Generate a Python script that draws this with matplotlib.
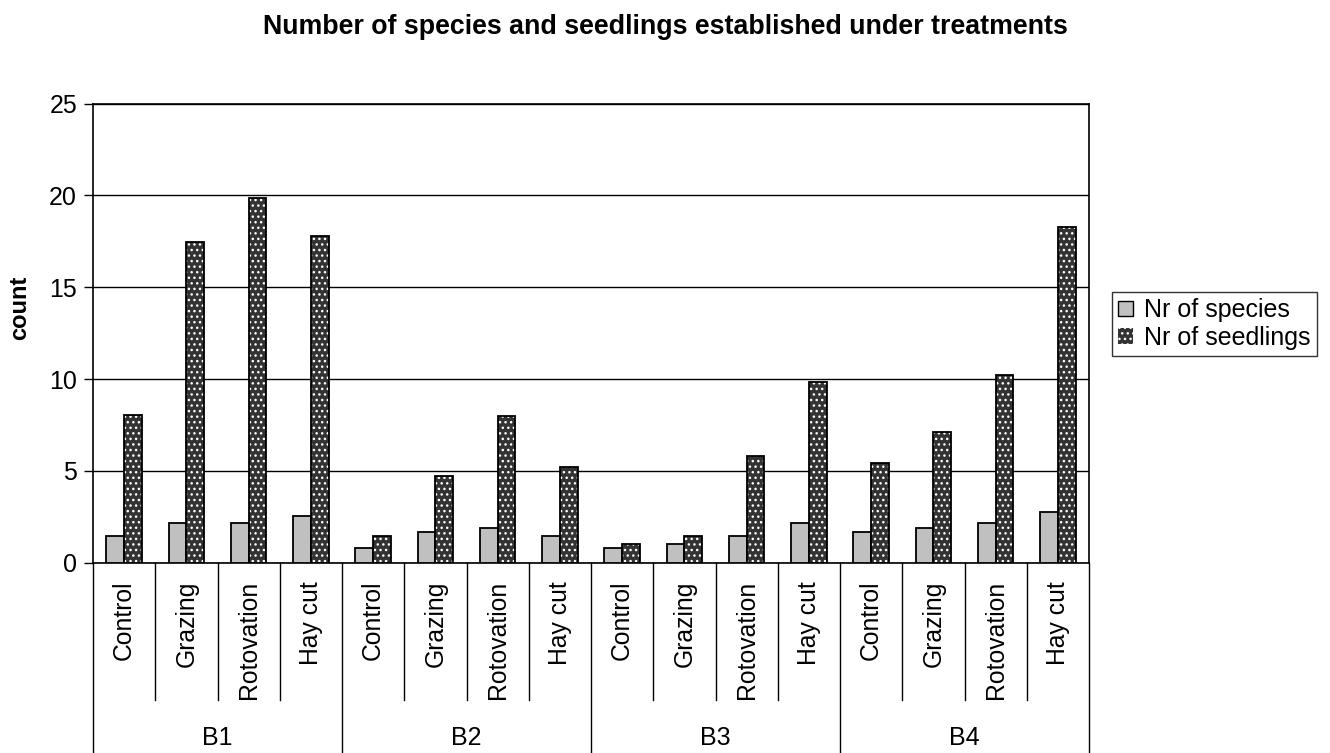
import matplotlib.pyplot as plt
from matplotlib.patches import Patch
import numpy as np

plt.rcParams['font.family'] = ['Liberation Sans', 'DejaVu Sans']
plt.rcParams['hatch.linewidth'] = 1.0

blocks = ["B1", "B2", "B3", "B4"]
treatments = ["Control", "Grazing", "Rotovation", "Hay cut"]
species = [1.45, 2.15, 2.15, 2.55,
           0.8, 1.65, 1.9, 1.45,
           0.8, 1.0, 1.45, 2.15,
           1.65, 1.9, 2.15, 2.75]
seedlings = [8.05, 17.45, 19.85, 17.8,
             1.45, 4.7, 8.0, 5.2,
             1.0, 1.45, 5.8, 9.85,
             5.45, 7.1, 10.2, 18.3]

W, H = 1330, 753
fig = plt.figure(figsize=(W / 100, H / 100), dpi=100)
ax_left, ax_right, ax_top, ax_bot = 93, 1089, 103.5, 562.7
ax = fig.add_axes([ax_left / W, (H - ax_bot) / H,
                   (ax_right - ax_left) / W, (ax_bot - ax_top) / H])

n = len(blocks) * len(treatments)
x = np.arange(n)
w = 1 / 3.5

ax.bar(x - w / 2, species, w, color="#c0c0c0", edgecolor="black",
       linewidth=1.3, zorder=3)
ax.bar(x + w / 2, seedlings, w, color="#333333", edgecolor="white",
       hatch="...", linewidth=0, zorder=3)
ax.bar(x + w / 2, seedlings, w, fill=False, edgecolor="black",
       linewidth=1.3, zorder=4)

ax.set_xlim(-0.5, n - 0.5)
ax.set_ylim(0, 25)
ax.set_yticks(range(0, 26, 5))
ax.yaxis.grid(True, color="black", linewidth=1)
ax.set_axisbelow(True)
ax.tick_params(axis="y", direction="out", length=6.5, width=1,
               labelsize=18, pad=5)
ax.set_xticks([])
for s in ax.spines.values():
    s.set_linewidth(1.2)
    s.set_color("black")

# multi-level category axis
trans = ax.get_xaxis_transform()
hpx = ax_bot - ax_top
inner_bot = -(700 - ax_bot) / hpx
outer_bot = -(H - ax_bot) / hpx
for k in range(n + 1):
    xb = k - 0.5
    yb = outer_bot if k % len(treatments) == 0 else inner_bot
    ax.plot([xb, xb], [0, yb], color="black", linewidth=1,
            transform=trans, clip_on=False)

for i in range(n):
    ax.text(i, -(581 - ax_bot) / hpx, treatments[i % len(treatments)],
            rotation=90, ha="center", va="top", fontsize=17.8,
            transform=trans)
for g, b in enumerate(blocks):
    xc = g * len(treatments) + (len(treatments) - 1) / 2
    ax.text(xc, -(738 - ax_bot) / hpx, b, ha="center", va="center",
            fontsize=18, transform=trans)

fig.text(0.5, (H - 27) / H,
         "Number of species and seedlings established under treatments",
         ha="center", va="center", fontsize=19.3, fontweight="bold")
fig.text(20 / W, (H - 308) / H, "count", rotation=90, ha="center",
         va="center", fontsize=17, fontweight="bold")

handles = [Patch(facecolor="#c0c0c0", edgecolor="black", linewidth=1),
           Patch(facecolor="#333333", edgecolor="white", hatch="...",
                 linewidth=0)]
leg = fig.legend(handles, ["Nr of species", "Nr of seedlings"],
                 loc="upper left", bbox_to_anchor=(1112 / W, (H - 292) / H),
                 fontsize=18, frameon=True, fancybox=False,
                 edgecolor="black", borderaxespad=0, handlelength=0.6,
                 handleheight=0.6, handletextpad=0.45, borderpad=0.25,
                 labelspacing=0.15)
leg.get_frame().set_linewidth(1)

fig.savefig("out.png", dpi=100)
